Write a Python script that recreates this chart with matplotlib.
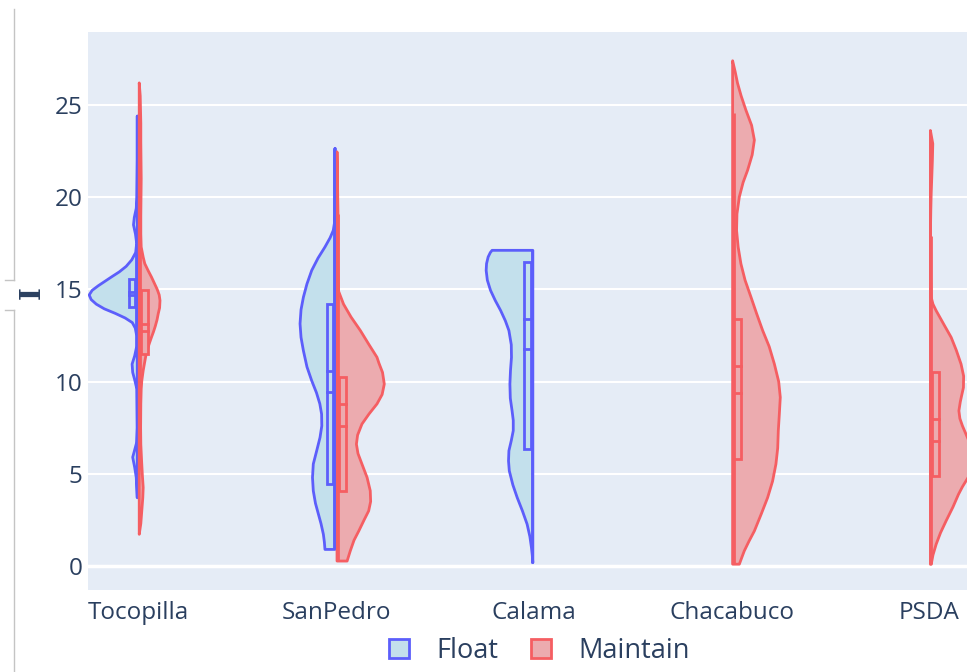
"""Split violin plot of I per site, Float vs Maintain, in a plotly-like style."""

import matplotlib.pyplot as plt
from matplotlib.lines import Line2D
from matplotlib.patches import Patch, Rectangle

SITES = ["Tocopilla", "SanPedro", "Calama", "Chacabuco", "PSDA"]

# Violin outlines: I levels and half-widths (category units)
TOCOPILLA_FLOAT_Y = [3.7, 4.3, 4.8, 5.35, 5.9, 6.3, 6.7, 7.5, 9.6, 10.1, 10.5, 10.95, 11.4,
                     11.9, 12.5, 12.9, 13.2, 13.45, 13.7, 13.95, 14.2, 14.45, 14.7, 14.95,
                     15.2, 15.45, 15.7, 15.95, 16.25, 16.6, 17.0, 17.5, 18.0, 18.5, 18.9,
                     19.4, 20.0, 22.0, 24.4]
TOCOPILLA_FLOAT_W = [0, .003, .005, .013, .023, .013, .003, 0, .002, .013, .023, .026, .013,
                     .003, .003, .010, .025, .061, .111, .167, .207, .233, .243, .228,
                     .197, .162, .127, .091, .056, .028, .008, .003, .009, .019, .015,
                     .005, .002, 0, 0]
TOCOPILLA_MAINTAIN_Y = [1.72, 2.3, 3.0, 3.7, 4.26, 4.9, 5.7, 6.6, 7.5, 8.8, 9.6, 10.05, 10.6,
                        11.14, 11.5, 11.8, 12.1, 12.41, 12.7, 13.0, 13.35, 13.68, 14.0, 14.4,
                        14.7, 15.0, 15.3, 15.67, 16.0, 16.4, 16.75, 17.3, 18.0, 19.0, 21.0,
                        23.0, 24.0, 25.5, 26.2]
TOCOPILLA_MAINTAIN_W = [0, .008, .013, .018, .020, .016, .012, .008, .007, .008, .010, .013,
                        .020, .029, .035, .043, .052, .062, .072, .081, .090, .096, .103,
                        .105, .101, .091, .078, .062, .046, .028, .020, .010, .008, .008,
                        .010, .008, .008, .005, 0]

SANPEDRO_FLOAT_Y = [0.9, 1.3, 1.72, 2.3, 2.81, 3.4, 4.08, 4.8, 5.53, 6.2, 6.97, 7.6, 8.24,
                    8.8, 9.4, 10.05, 10.8, 11.68, 12.4, 13.14, 13.9, 14.58, 15.3, 16.03,
                    16.7, 17.3, 17.8, 18.2, 18.6, 19.1, 22.65]
SANPEDRO_FLOAT_W = [.051, .054, .059, .071, .084, .099, .110, .114, .110, .094, .076, .067,
                    .068, .077, .094, .118, .142, .160, .172, .177, .172, .160, .142, .118,
                    .086, .051, .025, .009, .003, 0, 0]
SANPEDRO_MAINTAIN_Y = [0.27, 0.82, 1.4, 1.9, 2.5, 2.99, 3.5, 4.08, 4.8, 5.53, 6.1, 6.61, 7.1,
                       7.7, 8.25, 8.79, 9.3, 9.87, 10.5, 11.0, 11.32, 12.0, 12.77, 13.5,
                       14.2, 14.9, 16.5, 19.1, 22.46]
SANPEDRO_MAINTAIN_W = [.051, .067, .086, .110, .137, .160, .170, .168, .152, .126, .106,
                       .098, .104, .126, .162, .202, .228, .239, .230, .212, .202, .162,
                       .118, .071, .033, .008, .005, .005, 0]

CALAMA_FLOAT_Y = [0.18, 0.6, 1.0, 1.6, 2.27, 3.0, 3.71, 4.4, 5.16, 5.7, 6.25, 6.8, 7.34,
                  7.9, 8.42, 9.1, 9.87, 10.6, 11.32, 12.0, 12.77, 13.3, 13.86, 14.4, 14.95,
                  15.5, 16.03, 16.4, 16.76, 17.0, 17.12]
CALAMA_FLOAT_W = [0, .003, .007, .015, .029, .053, .079, .101, .119, .123, .121, .109, .099,
                  .099, .105, .114, .116, .113, .108, .109, .121, .139, .163, .190, .214,
                  .230, .236, .234, .226, .215, .206]

CHACABUCO_MAINTAIN_Y = [0.1, 0.45, 0.82, 1.35, 1.9, 2.8, 3.71, 4.6, 5.53, 6.4, 7.34, 8.2,
                        9.15, 10.0, 10.96, 11.9, 12.77, 13.7, 14.58, 15.5, 16.39, 17.3,
                        18.2, 19.1, 20.02, 20.8, 21.47, 22.3, 23.1, 23.9, 24.73, 25.5,
                        26.18, 26.8, 27.4]
CHACABUCO_MAINTAIN_W = [.034, .046, .059, .083, .110, .144, .177, .202, .219, .228, .231,
                        .236, .241, .233, .211, .185, .152, .121, .093, .063, .042, .028,
                        .020, .022, .034, .053, .076, .099, .110, .096, .067, .043, .025,
                        .013, 0]

PSDA_MAINTAIN_Y = [0.09, 0.6, 1.18, 1.8, 2.44, 3.2, 3.89, 4.3, 5.0, 5.6, 6.3, 6.9, 7.6, 8.0,
                   8.42, 8.9, 9.2, 9.68, 10.3, 10.95, 11.7, 12.4, 13.1, 13.85, 14.2, 14.57,
                   16.02, 18.0, 19.28, 20.2, 21.09, 22.0, 22.9, 23.62]
PSDA_MAINTAIN_W = [.004, .013, .029, .051, .079, .114, .142, .162, .202, .222, .212, .190,
                   .162, .149, .144, .151, .157, .167, .168, .155, .131, .105, .068, .029,
                   .013, .004, 0, 0, .002, .004, .007, .010, .012, 0]

# Inner box: lower whisker, q1, mean, median, q3, upper whisker
TOCOPILLA_FLOAT_BOX = [13.0, 14.04, 14.68, 14.86, 15.58, 16.9]
TOCOPILLA_MAINTAIN_BOX = [6.6, 11.5, 12.77, 13.14, 14.95, 19.66]
SANPEDRO_FLOAT_BOX = [0.9, 4.44, 9.42, 10.6, 14.22, 22.65]
SANPEDRO_MAINTAIN_BOX = [0.27, 4.08, 7.6, 8.79, 10.24, 19.1]
CALAMA_FLOAT_BOX = [0.18, 6.34, 11.78, 13.41, 16.48, 17.12]
CHACABUCO_MAINTAIN_BOX = [0.1, 5.8, 9.37, 10.87, 13.4, 24.55]
PSDA_MAINTAIN_BOX = [0.09, 4.89, 6.79, 7.96, 10.5, 17.92]

# (site, group, levels, widths, box)
TRACES = [
    ("Tocopilla", "Float", TOCOPILLA_FLOAT_Y, TOCOPILLA_FLOAT_W, TOCOPILLA_FLOAT_BOX),
    ("Tocopilla", "Maintain", TOCOPILLA_MAINTAIN_Y, TOCOPILLA_MAINTAIN_W, TOCOPILLA_MAINTAIN_BOX),
    ("SanPedro", "Float", SANPEDRO_FLOAT_Y, SANPEDRO_FLOAT_W, SANPEDRO_FLOAT_BOX),
    ("SanPedro", "Maintain", SANPEDRO_MAINTAIN_Y, SANPEDRO_MAINTAIN_W, SANPEDRO_MAINTAIN_BOX),
    ("Calama", "Float", CALAMA_FLOAT_Y, CALAMA_FLOAT_W, CALAMA_FLOAT_BOX),
    ("Chacabuco", "Maintain", CHACABUCO_MAINTAIN_Y, CHACABUCO_MAINTAIN_W, CHACABUCO_MAINTAIN_BOX),
    ("PSDA", "Maintain", PSDA_MAINTAIN_Y, PSDA_MAINTAIN_W, PSDA_MAINTAIN_BOX),
]

# line / fill colours (red & lightblue at 0.6 opacity over the plot background)
STYLE = {
    "Float": {"line": "#5c5efb", "fill": "#c3e0ec", "side": -1},
    "Maintain": {"line": "#f55e62", "fill": "#ecabaf", "side": 1},
}

BG = "#e5ecf6"
TEXT = "#2a3f5f"
LW = 2.0


def draw_half_violin(ax, site_pos, ys, ws, box, style):
    sgn = style["side"]
    pos = site_pos + sgn * 0.005  # the two halves sit just apart
    xs = [pos + sgn * w for w in ws]
    ax.fill([pos] + xs + [pos], [ys[0]] + list(ys) + [ys[-1]],
            facecolor=style["fill"], edgecolor=style["line"], linewidth=LW,
            joinstyle="round", zorder=2)

    lo, q1, mean, med, q3, hi = box
    ax.plot([pos + sgn * 0.005] * 2, [lo, hi], color=style["line"],
            linewidth=LW, solid_capstyle="butt", zorder=3)
    x0, x1 = pos + sgn * 0.009, pos + sgn * 0.043
    ax.add_patch(Rectangle((min(x0, x1), q1), abs(x1 - x0), q3 - q1,
                           facecolor=style["fill"], edgecolor=style["line"],
                           linewidth=LW, zorder=4))
    for v in (mean, med):
        ax.plot([x0, x1], [v, v], color=style["line"], linewidth=LW, zorder=5)


def main():
    plt.rcParams["font.family"] = ["Open Sans", "DejaVu Sans"]
    W, H = 967, 672
    fig = plt.figure(figsize=(W / 100, H / 100), dpi=100)
    ax = fig.add_axes([88 / W, 1 - 590 / H, (W - 88) / W, 558 / H])
    ax.set_facecolor(BG)

    for site, group, ys, ws, box in TRACES:
        draw_half_violin(ax, SITES.index(site), ys, ws, box, STYLE[group])

    ax.set_xlim(-0.254, 4.19)
    ax.set_ylim(-1.3, 28.96)
    ax.set_xticks(range(len(SITES)))
    ax.set_xticklabels(SITES)
    ax.set_yticks([0, 5, 10, 15, 20, 25])
    ax.tick_params(length=0, labelsize=17.5, colors=TEXT)
    ax.tick_params(axis="x", pad=8)
    ax.tick_params(axis="y", pad=4)
    ax.grid(axis="y", color="white", linewidth=1.5, zorder=0)
    ax.set_axisbelow(True)
    ax.axhline(0, color="white", linewidth=2.5, zorder=1)
    for s in ax.spines.values():
        s.set_visible(False)

    fig.text(32 / W, 1 - 293 / H, "I", rotation=90, ha="center", va="center",
             family="DejaVu Serif", fontweight="bold", fontsize=20, color=TEXT)

    handles = [Patch(facecolor=STYLE[g]["fill"], edgecolor=STYLE[g]["line"],
                     linewidth=LW, label=g) for g in ("Float", "Maintain")]
    fig.legend(handles=handles, loc="center", bbox_to_anchor=(539 / W, 1 - 651 / H),
               ncol=2, frameon=False, fontsize=19.5, labelcolor=TEXT,
               handlelength=0.75, handleheight=0.75, handletextpad=1.0,
               columnspacing=1.2)

    # container border on the left edge
    grey = "#c4c4c4"
    for xs, ys in (([13.5, 13.5], [9, 280]), ([5, 13.5], [280, 280]),
                   ([5, 13.5], [310, 310]), ([13.5, 13.5], [310, H])):
        fig.add_artist(Line2D([x / W for x in xs], [1 - y / H for y in ys],
                              color=grey, linewidth=1.0))

    fig.savefig("out.png", dpi=100, facecolor="white")


if __name__ == "__main__":
    main()
